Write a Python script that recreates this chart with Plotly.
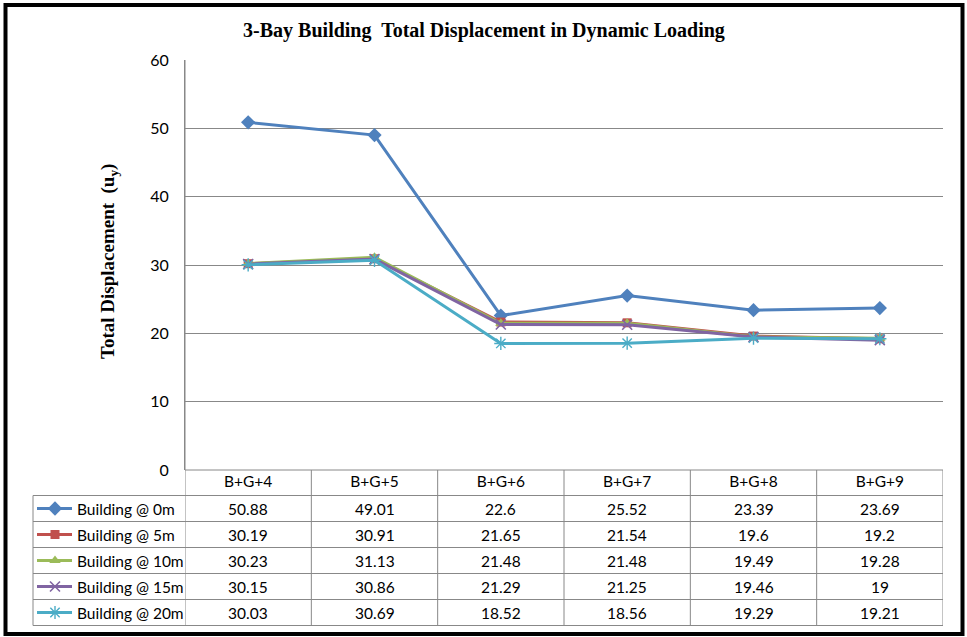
import plotly.graph_objects as go

# ---------------- data ----------------
categories = ["B+G+4", "B+G+5", "B+G+6", "B+G+7", "B+G+8", "B+G+9"]
series_names = ["Building @ 0m", "Building @ 5m", "Building @ 10m",
                "Building @ 15m", "Building @ 20m"]
disp_0m = [50.88, 49.01, 22.6, 25.52, 23.39, 23.69]
disp_5m = [30.19, 30.91, 21.65, 21.54, 19.6, 19.2]
disp_10m = [30.23, 31.13, 21.48, 21.48, 19.49, 19.28]
disp_15m = [30.15, 30.86, 21.29, 21.25, 19.46, 19]
disp_20m = [30.03, 30.69, 18.52, 18.56, 19.29, 19.21]
y_ticks = [0, 10, 20, 30, 40, 50, 60]

series_values = [disp_0m, disp_5m, disp_10m, disp_15m, disp_20m]

# ---------------- styles ----------------
colors = ["#4F81BD", "#C0504D", "#9BBB59", "#8064A2", "#4BACC6"]
symbols = ["diamond", "square", "triangle-up", "x-thin-open", "asterisk-open"]
msizes = [11, 9, 10, 10, 11]
mline = [0, 0, 0, 1.6, 1.4]

W, H = 967, 637
PL, PR, PT, PB = 185, 943, 60, 470          # plot area (px)
LEG_L = 33                                   # legend column left edge
HDR_B = 495.5                                # header row bottom
ROW_H = 26.0
GRID = "#888888"
FONT = "Lato"
TFS = 15.5


def px(x):
    return x / W


def py(y):
    return 1 - y / H


def fmt(v):
    return f"{v:g}"


fig = go.Figure()

for name, vals, c, s, ms, ml in zip(series_names, series_values, colors,
                                    symbols, msizes, mline):
    fig.add_trace(go.Scatter(
        x=categories, y=vals, name=name, mode="lines+markers",
        line=dict(color=c, width=3),
        marker=dict(symbol=s, size=ms, color=c,
                    line=dict(color=c, width=ml)),
        showlegend=False, cliponaxis=False,
    ))

shapes = []
annotations = []

# table horizontal lines
row_tops = [HDR_B + i * ROW_H for i in range(len(series_names) + 1)]
for i, yl in enumerate(row_tops):
    shapes.append(dict(type="line", xref="paper", yref="paper",
                       x0=px(LEG_L), x1=px(PR), y0=py(yl), y1=py(yl),
                       line=dict(color=GRID, width=1)))
# legend column borders
shapes.append(dict(type="line", xref="paper", yref="paper",
                   x0=px(LEG_L), x1=px(LEG_L), y0=py(HDR_B), y1=py(row_tops[-1]),
                   line=dict(color=GRID, width=1)))
# category column borders
for i in range(len(categories) + 1):
    shapes.append(dict(type="line", xref="x", yref="paper",
                       x0=i - 0.5, x1=i - 0.5,
                       y0=py(PB if i > 0 else PT), y1=py(row_tops[-1]),
                       line=dict(color=GRID, width=1)))
# top line of table (y = 0 level)
shapes.append(dict(type="line", xref="paper", yref="paper",
                   x0=px(PL), x1=px(PR), y0=py(PB), y1=py(PB),
                   line=dict(color=GRID, width=1)))

# outer frame
shapes.append(dict(type="rect", xref="paper", yref="paper",
                   x0=px(5.5), x1=px(962.5), y0=py(5), y1=py(634),
                   line=dict(color="black", width=4)))

# table values
for r, vals in enumerate(series_values):
    yc = HDR_B + (r + 0.5) * ROW_H
    for cat, v in zip(categories, vals):
        annotations.append(dict(xref="x", yref="paper", x=cat, y=py(yc),
                                text=fmt(v), showarrow=False,
                                font=dict(family=FONT, size=TFS, color="black"),
                                xanchor="center", yanchor="middle"))
    annotations.append(dict(xref="paper", yref="paper", x=px(75), y=py(yc),
                            text=series_names[r], showarrow=False,
                            font=dict(family=FONT, size=TFS, color="black"),
                            xanchor="left", yanchor="middle"))
    # legend sample
    fig.add_trace(go.Scatter(
        x=[37, 55, 72], y=[yc, yc, yc], xaxis="x2", yaxis="y2",
        mode="lines", line=dict(color=colors[r], width=3),
        showlegend=False, hoverinfo="skip", cliponaxis=False))
    fig.add_trace(go.Scatter(
        x=[55], y=[yc], xaxis="x2", yaxis="y2", mode="markers",
        marker=dict(symbol=symbols[r], size=msizes[r], color=colors[r],
                    line=dict(color=colors[r], width=mline[r])),
        showlegend=False, hoverinfo="skip", cliponaxis=False))

# y-axis title
annotations.append(dict(xref="paper", yref="paper", x=px(109), y=py(262),
                        text="<b>Total Displacement  (u<sub>y</sub>)</b>",
                        textangle=-90, showarrow=False,
                        font=dict(family="Liberation Serif", size=19,
                                  color="black"),
                        xanchor="center", yanchor="middle"))

fig.update_layout(
    width=W, height=H, autosize=False,
    margin=dict(l=0, r=0, t=0, b=0, pad=0, autoexpand=False),
    paper_bgcolor="white", plot_bgcolor="rgba(0,0,0,0)",
    title=dict(text="<b>3-Bay Building  Total Displacement in Dynamic Loading</b>",
               x=px(484), y=py(30), xanchor="center", yanchor="middle",
               font=dict(family="Liberation Serif", size=20, color="black")),
    xaxis=dict(domain=[px(PL), px(PR)], type="category",
               range=[-0.5, len(categories) - 0.5], automargin=False,
               showgrid=False, showline=False, zeroline=False, ticks="",
               tickfont=dict(family=FONT, size=TFS, color="black"),
               anchor="y"),
    yaxis=dict(domain=[py(PB), py(PT)], range=[0, 60], tickvals=y_ticks,
               automargin=False,
               showgrid=True, gridcolor=GRID, gridwidth=1,
               showline=True, linecolor=GRID, linewidth=1,
               zeroline=False, ticks="", ticklabelstandoff=12,
               tickfont=dict(family=FONT, size=16, color="black"),
               anchor="x"),
    xaxis2=dict(domain=[0, 1], range=[0, W], visible=False, anchor="y2",
                automargin=False),
    yaxis2=dict(domain=[0, 1], range=[H, 0], visible=False, anchor="x2",
                automargin=False),
    shapes=shapes, annotations=annotations,
)

fig.write_html("out.html", config={"displayModeBar": False},
               post_script="document.body.style.margin='0px';"
                           "document.body.style.overflow='hidden';")
